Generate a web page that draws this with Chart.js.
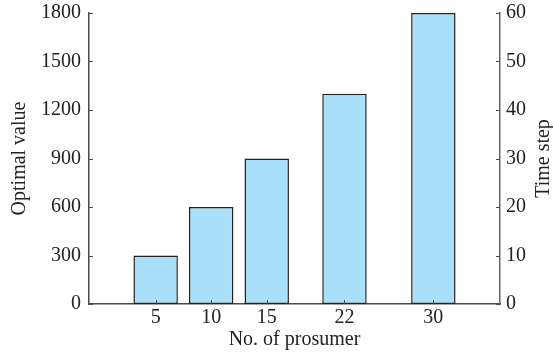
<!DOCTYPE html>
<html>
<head>
<meta charset="utf-8">
<script src="https://cdn.jsdelivr.net/npm/chart.js@4"></script>
<style>
  body { margin: 0; background: #fff; }
  #wrap { width: 553px; height: 358px; }
</style>
</head>
<body>
<div id="wrap"><canvas id="prosumer-chart"></canvas></div>
<script>
// Values for the chart
const prosumers = [5, 10, 15, 22, 30];
const optimalValues = [300, 600, 900, 1300, 1800];
const xTickValues = [5, 10, 15, 22, 30];
const leftAxisMax = 1800;
const rightAxisMax = 60;

const serif = '"Liberation Serif", "Times New Roman", serif';
const textColor = '#222';
const axisColor = '#4a4a4a';

// Small tick marks pointing into the plot, plus the right-hand title
const inwardTicks = {
    id: 'inwardTicks',
    afterDatasetsDraw(chart) {
        const { ctx, chartArea, scales } = chart;
        const len = 4;
        ctx.save();
        ctx.lineWidth = 1;
        ctx.strokeStyle = axisColor;
        ctx.beginPath();
        scales.x.ticks.forEach(t => {
            const px = Math.round(scales.x.getPixelForValue(t.value)) + 0.5;
            ctx.moveTo(px, chartArea.bottom);
            ctx.lineTo(px, chartArea.bottom - len);
        });
        scales.y.ticks.forEach(t => {
            const py = Math.round(scales.y.getPixelForValue(t.value)) + 0.5;
            ctx.moveTo(chartArea.left, py);
            ctx.lineTo(chartArea.left + len, py);
        });
        scales.y2.ticks.forEach(t => {
            const py = Math.round(scales.y2.getPixelForValue(t.value)) + 0.5;
            ctx.moveTo(chartArea.right, py);
            ctx.lineTo(chartArea.right - len, py);
        });
        ctx.stroke();

        // right axis title, reading bottom to top like the left one
        ctx.translate(544, (chartArea.top + chartArea.bottom) / 2);
        ctx.rotate(-Math.PI / 2);
        ctx.font = '20px ' + serif;
        ctx.fillStyle = textColor;
        ctx.textAlign = 'center';
        ctx.textBaseline = 'middle';
        ctx.fillText('Time step', 0, 0);
        ctx.restore();
    }
};

const plainNumber = v => String(v);

// fixed axis widths; drop the extra label padding so the top edge sits at 13px
function fitVertical(width) {
    return scale => {
        scale.width = width;
        scale.paddingTop = 0;
        scale.paddingBottom = 0;
    };
}

let prosumerChart = null;
function createProsumerChart() {
    const ctx = document.getElementById('prosumer-chart').getContext('2d');
    prosumerChart = new Chart(ctx, {
        type: 'bar',
        data: {
            datasets: [{
                label: 'Optimal value',
                data: prosumers.map((p, i) => ({ x: p, y: optimalValues[i] })),
                backgroundColor: '#aadff9',
                borderColor: '#222',
                borderWidth: 1.5,
                borderSkipped: false,
                barPercentage: 0.8,
                categoryPercentage: 1.0
            }]
        },
        options: {
            responsive: true,
            maintainAspectRatio: false,
            animation: false,
            layout: {
                padding: { top: 13, left: 0, right: 0, bottom: 0 }
            },
            plugins: {
                legend: { display: false },
                tooltip: { enabled: false }
            },
            scales: {
                x: {
                    type: 'linear',
                    min: -1,
                    max: 36,
                    offset: false,
                    afterBuildTicks: scale => {
                        scale.ticks = xTickValues.map(v => ({ value: v }));
                    },
                    afterFit: scale => { scale.height = 54; },
                    grid: { display: false, drawTicks: false },
                    border: { display: true, color: axisColor, width: 1.5 },
                    ticks: {
                        padding: 2,
                        color: textColor,
                        font: { family: serif, size: 20 },
                        callback: plainNumber
                    },
                    title: {
                        display: true,
                        text: 'No. of prosumer',
                        color: textColor,
                        font: { family: serif, size: 20 },
                        padding: { top: 0, bottom: 6 }
                    }
                },
                y: {
                    position: 'left',
                    min: 0,
                    max: leftAxisMax,
                    afterFit: fitVertical(89),
                    grid: { display: false, drawTicks: false },
                    border: { display: true, color: axisColor, width: 1.5 },
                    ticks: {
                        stepSize: 300,
                        padding: 8,
                        color: textColor,
                        font: { family: serif, size: 20 },
                        callback: plainNumber
                    },
                    title: {
                        display: true,
                        text: 'Optimal value',
                        color: textColor,
                        font: { family: serif, size: 20 },
                        padding: { top: 8, bottom: 0 }
                    }
                },
                y2: {
                    position: 'right',
                    min: 0,
                    max: rightAxisMax,
                    afterFit: fitVertical(53),
                    grid: { display: false, drawTicks: false },
                    border: { display: true, color: '#666', width: 1.5 },
                    ticks: {
                        stepSize: 10,
                        padding: 6,
                        color: textColor,
                        font: { family: serif, size: 20 },
                        callback: plainNumber
                    }
                }
            }
        },
        plugins: [inwardTicks]
    });
    return prosumerChart;
}

createProsumerChart();
</script>
</body>
</html>
